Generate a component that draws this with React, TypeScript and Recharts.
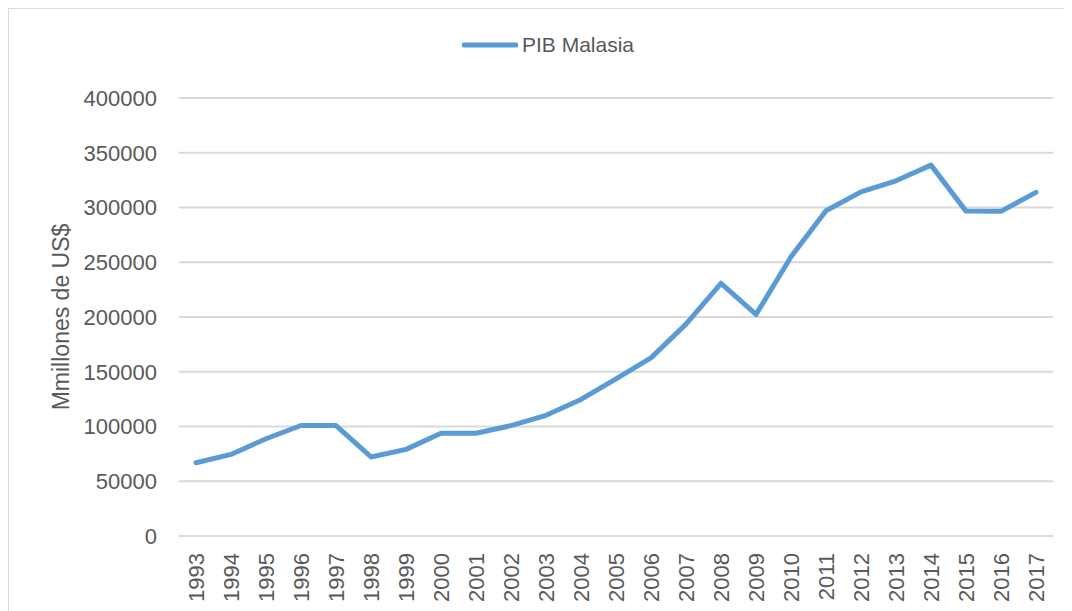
import React from 'react';
import { LineChart, Line, XAxis, YAxis, CartesianGrid, Legend } from 'recharts';

const years = [
  '1993', '1994', '1995', '1996', '1997', '1998', '1999', '2000', '2001',
  '2002', '2003', '2004', '2005', '2006', '2007', '2008', '2009', '2010',
  '2011', '2012', '2013', '2014', '2015', '2016', '2017',
];

// PIB Malasia, millones de US$
const pib = [
  66900, 74500, 88800, 100900, 100900, 72200, 79100, 93800, 93800,
  100800, 110200, 124700, 143500, 162700, 193500, 230800, 202300, 255000,
  297000, 314300, 324400, 338700, 296700, 296500, 313800,
];

const yTicks = [0, 50000, 100000, 150000, 200000, 250000, 300000, 350000, 400000];

const data = years.map((year, i) => ({ year, pib: pib[i] }));

const FONT = '"Liberation Sans", Arial, sans-serif';
const TEXT = '#595959';
const BLUE = '#5b9bd5';

const YearTick = ({ x, y, payload }: any) => (
  <g transform={`translate(${x},${y})`}>
    <text
      x={0}
      y={0}
      dy="0.35em"
      textAnchor="end"
      transform="rotate(-90)"
      fill={TEXT}
      fontSize={22}
      fontFamily={FONT}
    >
      {payload.value}
    </text>
  </g>
);

const YTitle = ({ viewBox }: any) => {
  const cx = 52;
  const cy = viewBox.y + viewBox.height / 2;
  return (
    <text
      x={cx}
      y={cy}
      dy="0.35em"
      textAnchor="middle"
      transform={`rotate(-90, ${cx}, ${cy})`}
      fill={TEXT}
      fontSize={23}
      fontFamily={FONT}
    >
      Mmillones de US$
    </text>
  );
};

const LegendBox = () => (
  <div style={{ display: 'flex', alignItems: 'center', fontFamily: FONT }}>
    <svg width={56} height={8}>
      <line x1={2} y1={4} x2={54} y2={4} stroke={BLUE} strokeWidth={5} strokeLinecap="round" />
    </svg>
    <span style={{ marginLeft: 4, fontSize: 21, color: TEXT, lineHeight: '24px' }}>PIB Malasia</span>
  </div>
);

export default function App() {
  return (
    <div
      style={{
        width: 1064,
        height: 603,
        borderLeft: '1.5px solid #d9d9d9',
        borderTop: '1.5px solid #d9d9d9',
        overflow: 'hidden',
        boxSizing: 'border-box',
        background: '#fff',
      }}
    >
      <LineChart width={1063} height={602} data={data} margin={{ top: 39, right: 19, bottom: 0, left: 0 }}>
        <CartesianGrid vertical={false} stroke="#d9d9d9" strokeWidth={2} />
        <Legend
          verticalAlign="top"
          height={50}
          content={<LegendBox />}
          wrapperStyle={{ top: 24, left: 453, width: 'auto' }}
        />
        <XAxis
          dataKey="year"
          axisLine={false}
          tickLine={false}
          tickSize={0}
          tickMargin={17}
          interval={0}
          height={75}
          padding={{ left: 17, right: 17 }}
          tick={<YearTick />}
        />
        <YAxis
          domain={[0, 400000]}
          ticks={yTicks}
          axisLine={false}
          tickLine={false}
          tickSize={0}
          tickMargin={22}
          width={170}
          tick={{ fill: TEXT, fontSize: 22, fontFamily: FONT }}
          label={<YTitle />}
        />
        <Line
          type="linear"
          dataKey="pib"
          name="PIB Malasia"
          stroke={BLUE}
          strokeWidth={5}
          strokeLinejoin="round"
          strokeLinecap="round"
          dot={false}
          activeDot={false}
          isAnimationActive={false}
        />
      </LineChart>
    </div>
  );
}
